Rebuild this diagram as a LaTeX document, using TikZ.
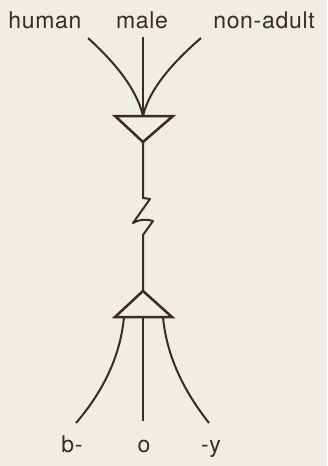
\documentclass[tikz,border=0pt]{standalone}
\usepackage{fontspec}
\setmainfont[LetterSpace=3]{TeX Gyre Heros}
\definecolor{bg}{RGB}{240,238,228}
\definecolor{ink}{RGB}{58,42,42}
\begin{document}
\begin{tikzpicture}[x=1pt,y=-1pt,
  lbl/.style={text=ink,font=\fontsize{23}{27}\selectfont,anchor=base,inner sep=0pt},
  wire/.style={draw=ink,line width=2pt},
  tri/.style={draw=ink,line width=2.5pt,line join=miter}]
\fill[bg] (0,0) rectangle (327,466);
\useasboundingbox (0,0) rectangle (327,466);
% labels
\node[lbl] (human) at (45,28) {human};
\node[lbl] (male) at (142,28) {male};
\node[lbl] (nonadult) at (264,28) {non-adult};
\node[lbl] (b) at (72,452) {b-};
\node[lbl] (o) at (144,452) {o};
\node[lbl] (y) at (211,452) {-y};
% anchor coordinates
\coordinate (h0) at (88,38);
\coordinate (m0) at (143,37);
\coordinate (n0) at (201,38);
\coordinate (top) at (143,116);
\coordinate (tl) at (115,116);
\coordinate (tr) at (173,116);
\coordinate (tapex) at (143,142);
\coordinate (bapex) at (143,291);
\coordinate (bl) at (115,317);
\coordinate (br) at (172,317);
\coordinate (bot) at (143,317);
\coordinate (l1) at (124,317);
\coordinate (r1) at (163,317);
\coordinate (l2) at (76,423);
\coordinate (m2) at (143,421);
\coordinate (r2) at (209,423);
% upper fan
\draw[wire] (h0) .. controls (110,58) and (136,86) .. (top);
\draw[wire] (m0) -- (top);
\draw[wire] (n0) .. controls (178,58) and (150,86) .. (top);
% triangles
\draw[tri] (tl) -- (tr) -- (tapex) -- cycle;
\draw[tri] (bl) -- (br) -- (bapex) -- cycle;
% stem with zigzag
\draw[wire,line join=round] (tapex) -- (143,198) -- (150,199) -- (133,223) .. controls (140,219) and (148,219) .. (153,221) -- (143,235) -- (bapex);
% lower fan
\draw[wire] (l1) .. controls (120,360) and (100,395) .. (l2);
\draw[wire] (bot) -- (m2);
\draw[wire] (r1) .. controls (167,360) and (187,395) .. (r2);
\end{tikzpicture}
\end{document}
